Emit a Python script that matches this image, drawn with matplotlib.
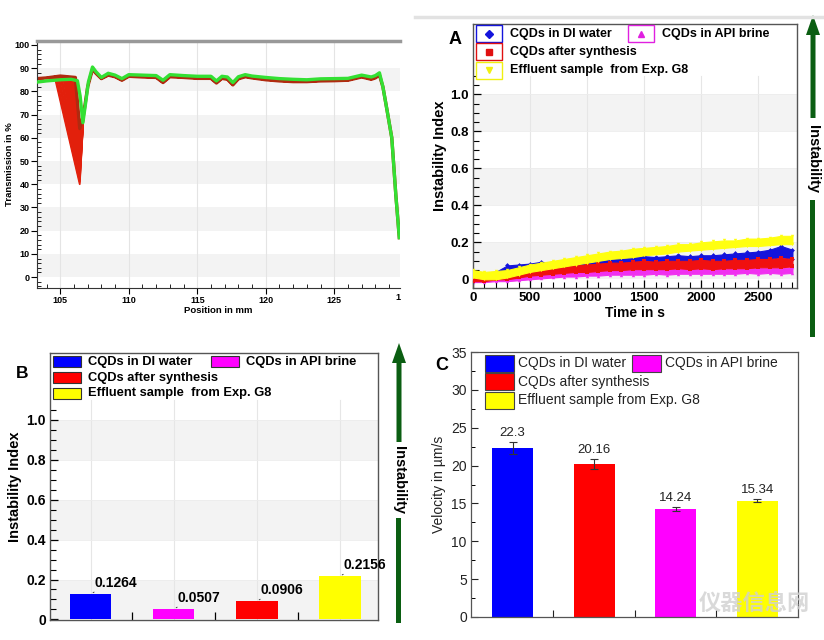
import matplotlib
matplotlib.use("Agg")
import matplotlib.pyplot as plt
from matplotlib.patches import Rectangle, FancyArrow
from matplotlib.ticker import FixedLocator, MultipleLocator

plt.rcParams['font.family'] = ['Liberation Sans', 'DejaVu Sans']

W, H = 824, 640

# ---------------- data ----------------
# transmission profiles (top left)
pos_green = [103.3, 104.0, 105.0, 105.8, 106.25, 106.45, 106.65, 106.85, 107.05, 107.35,
             107.6, 108.0, 108.5, 109.0, 109.5, 110.0, 111.0, 112.0, 112.5, 113.0,
             114.0, 115.0, 116.0, 116.4, 116.8, 117.2, 117.6, 118.0, 118.5, 119.0,
             120.0, 121.0, 122.0, 123.0, 124.0, 125.0, 126.0, 127.0, 127.7, 128.0,
             128.3, 128.55, 128.85, 129.2, 129.5, 129.75]
green_T = [84.0, 84.5, 85.0, 85.2, 84.6, 78.0, 66.5, 75.0, 84.0, 90.5,
           88.5, 86.0, 87.8, 87.0, 85.5, 87.2, 87.0, 86.8, 84.8, 87.2,
           86.8, 86.5, 86.5, 84.5, 86.5, 86.2, 83.8, 86.3, 87.2, 86.6,
           86.0, 85.5, 85.2, 85.0, 85.4, 85.5, 85.6, 87.0, 86.2, 86.8,
           88.0, 82.0, 72.0, 60.0, 35.0, 17.0]

pos_head = [103.3, 104.0, 105.0]
red_head = [85.5, 85.8, 86.6]
dip_start = [104.6, 104.65, 104.7, 104.8, 104.85, 104.9, 105.0, 105.05, 105.1, 105.2,
             105.25, 105.3, 105.35, 105.4, 105.45, 105.5, 105.55, 105.6, 105.65, 105.7,
             105.75, 105.8, 105.85, 105.9, 105.95, 106.0, 106.05, 106.1]
dip_min = [40, 41, 42, 43, 44, 45, 46, 47, 48, 49,
           50, 51, 52, 53, 54, 55, 56, 57, 58, 58.5,
           59, 59.5, 60, 61, 62, 63, 63.5, 64]
pos_exit = [106.7, 107.0]
red_exit = [70.0, 82.0]
pos_tail = [107.35, 107.6, 108.0, 108.5, 109.0, 109.5, 110.0, 111.0, 112.0, 112.5,
            113.0, 114.0, 115.0, 116.0, 116.4, 116.8, 117.2, 117.6, 118.0, 118.5,
            119.0, 120.0, 121.0, 122.0, 123.0, 124.0, 125.0, 126.0, 127.0, 127.7,
            128.0, 128.3, 128.55, 128.85, 129.2, 129.5, 129.75]
red_tail = [89.5, 87.8, 85.5, 87.0, 86.3, 84.8, 86.5, 86.2, 86.0, 83.8,
            86.3, 86.0, 85.6, 85.6, 83.6, 85.6, 85.2, 82.8, 85.4, 86.3,
            85.8, 85.0, 84.5, 84.2, 84.2, 84.5, 84.6, 84.8, 86.2, 85.2,
            85.8, 87.0, 82.0, 72.0, 60.0, 35.0, 17.0]

# instability index vs time (A)
t_sec = [0, 100, 200, 300, 400, 500, 600, 700, 800, 900, 1000, 1100, 1200, 1300, 1400,
         1500, 1600, 1700, 1800, 1900, 2000, 2100, 2200, 2300, 2400, 2500, 2600, 2700, 2800]
yel_hi = [0.05, 0.04, 0.045, 0.05, 0.065, 0.08, 0.09, 0.10, 0.11, 0.12, 0.13, 0.14, 0.15, 0.155, 0.165,
          0.17, 0.175, 0.18, 0.19, 0.19, 0.20, 0.205, 0.21, 0.21, 0.22, 0.22, 0.225, 0.235, 0.235]
yel_lo = [0.01, 0.0, 0.0, 0.01, 0.025, 0.04, 0.05, 0.06, 0.07, 0.08, 0.09, 0.10, 0.11, 0.115, 0.12,
          0.13, 0.135, 0.14, 0.15, 0.155, 0.16, 0.165, 0.17, 0.175, 0.18, 0.18, 0.185, 0.19, 0.19]
blu_hi = [0.02, 0.03, 0.04, 0.075, 0.08, 0.085, 0.095, 0.085, 0.09, 0.095, 0.11, 0.10, 0.11, 0.115, 0.12,
          0.125, 0.12, 0.125, 0.13, 0.125, 0.13, 0.13, 0.135, 0.14, 0.145, 0.15, 0.16, 0.18, 0.16]
blu_lo = [0.0, 0.0, 0.01, 0.02, 0.03, 0.04, 0.04, 0.05, 0.05, 0.06, 0.06, 0.07, 0.07, 0.075, 0.08,
          0.08, 0.085, 0.085, 0.085, 0.09, 0.09, 0.09, 0.095, 0.095, 0.10, 0.10, 0.11, 0.12, 0.11]
red_hi = [0.02, 0.02, 0.02, 0.03, 0.04, 0.05, 0.06, 0.065, 0.07, 0.075, 0.08, 0.085, 0.09, 0.09, 0.095,
          0.10, 0.095, 0.10, 0.10, 0.10, 0.105, 0.10, 0.10, 0.105, 0.105, 0.11, 0.11, 0.115, 0.11]
red_lo = [-0.01, -0.01, 0.0, 0.0, 0.01, 0.02, 0.025, 0.03, 0.035, 0.04, 0.04, 0.045, 0.05, 0.05, 0.055,
          0.055, 0.055, 0.055, 0.06, 0.055, 0.06, 0.055, 0.06, 0.06, 0.06, 0.065, 0.065, 0.065, 0.07]
mag_hi = [0.0, 0.005, 0.01, 0.015, 0.02, 0.025, 0.03, 0.035, 0.04, 0.04, 0.045, 0.045, 0.05, 0.05, 0.055,
          0.055, 0.055, 0.055, 0.06, 0.055, 0.06, 0.06, 0.06, 0.06, 0.06, 0.06, 0.065, 0.06, 0.065]
mag_lo = [-0.015, -0.015, -0.01, -0.01, -0.005, 0.0, 0.005, 0.01, 0.015, 0.015, 0.02, 0.02, 0.025, 0.025, 0.025,
          0.025, 0.03, 0.025, 0.03, 0.03, 0.03, 0.03, 0.03, 0.03, 0.035, 0.03, 0.035, 0.03, 0.035]

# instability index bars (B) and velocity bars (C)
b_labels = ["CQDs in DI water", "CQDs in API brine", "CQDs after synthesis", "Effluent sample  from Exp. G8"]
b_values = [0.1264, 0.0507, 0.0906, 0.2156]
b_colors = ["#0000ff", "#ff00ff", "#ff0000", "#ffff00"]

c_labels = ["CQDs in DI water", "CQDs after synthesis", "CQDs in API brine", "Effluent sample from Exp. G8"]
c_values = [22.3, 20.16, 14.24, 15.34]
c_errors = [0.8, 0.65, 0.3, 0.2]
c_colors = ["#0000ff", "#ff0000", "#ff00ff", "#ffff00"]


def px_rect(x0, y0, x1, y1):
    return [x0 / W, 1 - y1 / H, (x1 - x0) / W, (y1 - y0) / H]


fig = plt.figure(figsize=(W / 100, H / 100), dpi=100)
fig.patch.set_facecolor("white")

# ---------------- panel 1 ----------------
ax1 = fig.add_axes(px_rect(37, 41, 400, 288))
ax1.set_xlim(103.3, 129.8)
ax1.set_ylim(-4.7, 101.7)
for lo in [0, 20, 40, 60, 80]:
    ax1.axhspan(lo, lo + 10, color="#f3f3f3", lw=0, zorder=0)
for xv in [105, 110, 115, 120, 125]:
    ax1.axvline(xv, color="#e4e4e4", lw=0.8, zorder=0)

for s, m in zip(dip_start, dip_min):
    hx = [p for p in pos_head if p < s]
    hy = red_head[:len(hx)]
    xs = hx + [s, 106.42] + pos_exit + pos_tail
    ys = hy + [86.0, m] + red_exit + red_tail
    ax1.plot(xs, ys, color="#e2200c", lw=1.3, zorder=2)
ax1.plot(pos_head + [106.1, 106.42] + pos_exit + pos_tail,
         red_head + [86.0, 64] + red_exit + red_tail, color="#b02a10", lw=2.4, zorder=2)
ax1.plot(pos_green, green_T, color="#33e033", lw=2.4, zorder=3)

ax1.set_yticks(range(0, 101, 10))
ax1.yaxis.set_minor_locator(MultipleLocator(2))
ax1.set_xticks([105, 110, 115, 120, 125])
ax1.xaxis.set_minor_locator(MultipleLocator(1))
ax1.tick_params(axis="both", which="major", direction="out", length=4, width=0.8,
                labelsize=6.5, pad=1.5)
ax1.tick_params(axis="both", which="minor", direction="in", length=3, width=0.6)
for lab in ax1.get_xticklabels() + ax1.get_yticklabels():
    lab.set_fontweight("bold")
ax1.text(129.62, -0.02, "1", transform=ax1.get_xaxis_transform(), ha="center", va="top",
         fontsize=6.5, fontweight="bold")
ax1.set_xlabel("Position in mm", fontsize=6.8, fontweight="bold", labelpad=1)
ax1.set_ylabel("Transmission in %", fontsize=6.8, fontweight="bold", labelpad=0.5)
ax1.spines["right"].set_visible(False)
ax1.spines["top"].set_color("#999999")
ax1.spines["top"].set_linewidth(2.5)
for sp in ["left", "bottom"]:
    ax1.spines[sp].set_color("#333333")
    ax1.spines[sp].set_linewidth(0.8)

# ---------------- panel A ----------------
axA = fig.add_axes(px_rect(473, 24, 797, 288))
axA.set_xlim(0, 2840)
axA.set_ylim(-0.047, 1.38)
for lo in [0.0, 0.4, 0.8]:
    axA.fill_between([0, 2840], lo, lo + 0.2, color="#f3f3f3", lw=0, zorder=0)
for xv in [500, 1000, 1500, 2000, 2500]:
    axA.plot([xv, xv], [-0.047, 1.1], color="#e6e6e6", lw=0.8, zorder=0)
for yv in [0.2, 0.4, 0.6, 0.8, 1.0]:
    axA.plot([0, 2840], [yv, yv], color="#ececec", lw=0.6, zorder=0)

series_A = [(mag_lo, mag_hi, "#f030f0", "^"),
            (blu_lo, blu_hi, "#1414dc", "D"),
            (red_lo, red_hi, "#f01010", "s"),
            (yel_lo, yel_hi, "#ffff10", "v")]
for k, (lo, hi, col, mk) in enumerate(series_A):
    axA.fill_between(t_sec, lo, hi, color=col, lw=0.8, edgecolor=col, zorder=2 + k)
    axA.scatter(t_sec, hi, marker=mk, s=6, color=col, lw=0, zorder=2 + k)
    axA.scatter(t_sec, lo, marker=mk, s=6, color=col, lw=0, zorder=2 + k)

axA.set_yticks([0, 0.2, 0.4, 0.6, 0.8, 1.0])
axA.set_yticklabels(["0", "0.2", "0.4", "0.6", "0.8", "1.0"])
axA.yaxis.set_minor_locator(FixedLocator([0.05 * i for i in range(23) if i % 4]))
axA.set_xticks([0, 500, 1000, 1500, 2000, 2500])
axA.xaxis.set_minor_locator(MultipleLocator(100))
axA.tick_params(axis="both", which="major", direction="in", length=6, width=0.9,
                labelsize=9.5, pad=3)
axA.tick_params(axis="both", which="minor", direction="in", length=4, width=0.8)
for lab in axA.get_xticklabels() + axA.get_yticklabels():
    lab.set_fontweight("bold")
axA.set_xlabel("Time in s", fontsize=10, fontweight="bold", labelpad=1)
axA.set_ylabel("Instability Index", fontsize=10.5, fontweight="bold", labelpad=2)
for sp in axA.spines.values():
    sp.set_color("#555555")
    sp.set_linewidth(1.0)

# ---------------- panel B ----------------
axB = fig.add_axes(px_rect(50, 353, 378, 620))
axB.set_xlim(-0.49, 3.46)
axB.set_ylim(-0.003, 1.336)
for lo in [0.0, 0.4, 0.8]:
    axB.fill_between([-0.49, 3.46], lo, lo + 0.2, color="#f3f3f3", lw=0, zorder=0)
for xv in range(len(b_values)):
    axB.plot([xv, xv], [0, 1.1], color="#e6e6e6", lw=0.8, zorder=0)
for yv in [0.2, 0.4, 0.6, 0.8, 1.0]:
    axB.plot([-0.49, 3.46], [yv, yv], color="#ececec", lw=0.6, zorder=0)
xb = list(range(len(b_values)))
axB.bar(xb, b_values, width=0.5, color=b_colors, zorder=2)
for x, v in zip(xb, b_values):
    axB.annotate("", xy=(x, v), xytext=(x + 0.07, v + 0.018),
                 arrowprops=dict(arrowstyle="-", color="#333333", lw=0.6), zorder=3)
    axB.text(x + 0.04, v + 0.022, f"{v:.4f}", fontsize=10, fontweight="bold",
             ha="left", va="bottom", zorder=3)
axB.set_yticks([0, 0.2, 0.4, 0.6, 0.8, 1.0])
axB.set_yticklabels(["0", "0.2", "0.4", "0.6", "0.8", "1.0"])
axB.yaxis.set_minor_locator(FixedLocator([0.05 * i for i in range(22) if i % 4]))
axB.set_xticks([0.5, 1.5, 2.5])
axB.set_xticklabels([])
axB.tick_params(axis="both", which="major", direction="in", length=6, width=0.9,
                labelsize=10, pad=3)
axB.tick_params(axis="y", which="minor", direction="in", length=4, width=0.8)
for lab in axB.get_yticklabels():
    lab.set_fontweight("bold")
axB.set_ylabel("Instability Index", fontsize=10.5, fontweight="bold", labelpad=3)
for sp in axB.spines.values():
    sp.set_color("#555555")
    sp.set_linewidth(1.0)

# ---------------- panel C ----------------
axC = fig.add_axes(px_rect(471, 352, 798, 617))
axC.set_xlim(-0.51, 3.5)
axC.set_ylim(0, 35)
xc = list(range(len(c_values)))
axC.bar(xc, c_values, width=0.5, color=c_colors, zorder=2)
axC.errorbar(xc, c_values, yerr=c_errors, fmt="none", ecolor="#333333", elinewidth=0.8,
             capsize=3, capthick=0.8, zorder=3)
for x, v, e in zip(xc, c_values, c_errors):
    axC.text(x, v + e + 0.4, f"{v:g}", fontsize=9.5, ha="center", va="bottom", color="#222222")
axC.set_yticks(range(0, 36, 5))
axC.yaxis.set_minor_locator(MultipleLocator(2.5))
axC.set_xticks([0.5, 1.5, 2.5])
axC.set_xticklabels([])
axC.tick_params(axis="both", which="major", direction="in", length=5, width=0.8,
                labelsize=10, pad=3, colors="#222222")
axC.tick_params(axis="y", which="minor", direction="in", length=3, width=0.7)
axC.set_ylabel("Velocity in µm/s", fontsize=10, labelpad=4, color="#222222")
for sp in axC.spines.values():
    sp.set_color("#555555")
    sp.set_linewidth(0.9)

# ---------------- overlay: legends, arrows, panel letters ----------------
ov = fig.add_axes([0, 0, 1, 1], zorder=10)
ov.set_xlim(0, W)
ov.set_ylim(H, 0)
ov.axis("off")
ov.patch.set_alpha(0)

ov.plot([415, 824], [17, 17], color="#e2e2e2", lw=2.5)

# legend A (marker boxes)
legA = [(476, 33.5, "#1414dc", "D", "CQDs in DI water"),
        (628, 33.5, "#e020e0", "^", "CQDs in API brine"),
        (476, 51.7, "#e01010", "s", "CQDs after synthesis"),
        (476, 70.0, "#f0f010", "v", "Effluent sample  from Exp. G8")]
for x0, yc, col, mk, txt in legA:
    ov.add_patch(Rectangle((x0, yc - 8.5), 26, 17, fc="white", ec=col, lw=1.0))
    ov.plot([x0 + 13], [yc], marker=mk, color=col, ms=4.5, mec=col)
    ov.text(x0 + 34, yc, txt, fontsize=9, fontweight="bold", va="center", ha="left")

# legend B (filled boxes)
legB = [(53, 361.7, b_colors[0], b_labels[0]),
        (211, 361.7, b_colors[1], b_labels[1]),
        (53, 377.7, b_colors[2], b_labels[2]),
        (53, 393.3, b_colors[3], b_labels[3])]
for x0, yc, col, txt in legB:
    ov.add_patch(Rectangle((x0, yc - 5.5), 28, 11, fc=col, ec="#333333", lw=0.8))
    ov.text(x0 + 35, yc, txt, fontsize=9.3, fontweight="bold", va="center", ha="left")

# legend C
legC = [(485, 363.3, c_colors[0], c_labels[0]),
        (632, 363.3, c_colors[2], c_labels[2]),
        (485, 381.7, c_colors[1], c_labels[1]),
        (485, 400.0, c_colors[3], c_labels[3])]
for x0, yc, col, txt in legC:
    ov.add_patch(Rectangle((x0, yc - 8.5), 29, 17, fc=col, ec="#444444", lw=0.8))
    ov.text(x0 + 33, yc, txt, fontsize=10, va="center", ha="left", color="#222222")

# panel letters
ov.text(455, 39, "A", fontsize=13, fontweight="bold", ha="center", va="center")
ov.text(22, 373, "B", fontsize=12.5, fontweight="bold", ha="center", va="center")
ov.text(442, 365, "C", fontsize=13, fontweight="bold", ha="center", va="center")

# green "Instability" arrows
green = "#0b5e12"
for xa, top, gap0, gap1, bottom in [(813, 15, 118, 200, 337), (399, 343, 442, 518, 623)]:
    ov.add_patch(FancyArrow(xa, gap0, 0, top - gap0, width=5, head_width=14,
                            head_length=20, length_includes_head=True, color=green, lw=0))
    ov.add_patch(Rectangle((xa - 2.5, gap1), 5, bottom - gap1, color=green, lw=0))
    ov.text(xa, (gap0 + gap1) / 2, "Instability", rotation=-90, fontsize=10.5,
            fontweight="bold", ha="center", va="center")

# watermark
ov.text(754, 603, "仪器信息网", fontsize=16, fontweight="bold", color="#d0d0d0", alpha=0.8,
        ha="center", va="center", family=["Noto Sans CJK SC", "DejaVu Sans"])

fig.savefig("out.png", dpi=100)
